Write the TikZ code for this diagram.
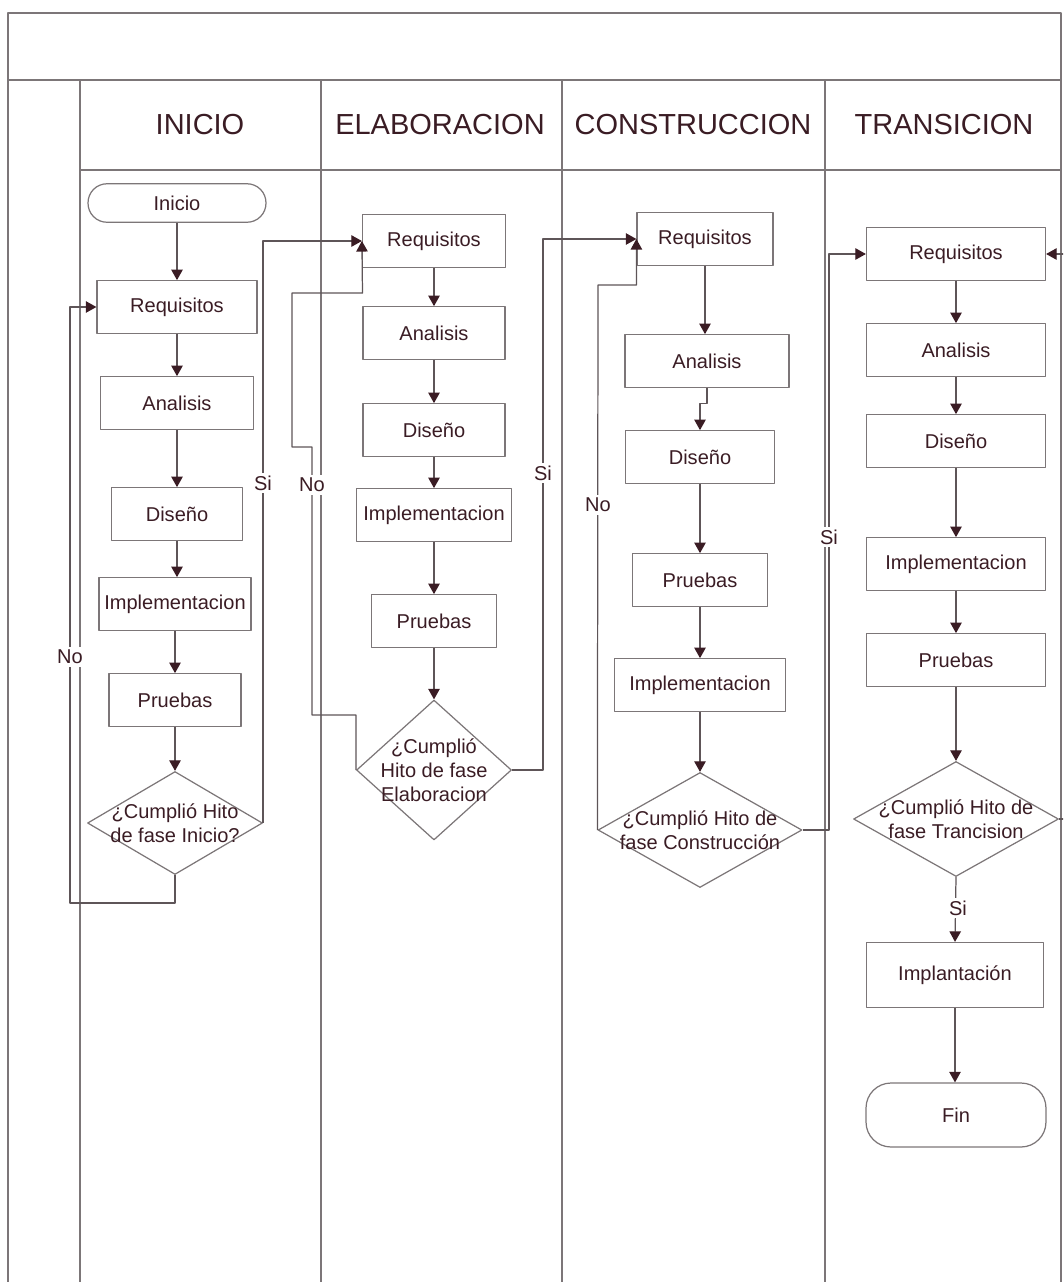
\documentclass[tikz,border=0pt]{standalone}
\usepackage{fontspec}
\setmainfont{Liberation Sans}
\usetikzlibrary{shapes.geometric,arrows.meta}
\definecolor{ink}{HTML}{3A1C24}
\definecolor{edge}{HTML}{7C7678}
\definecolor{wire}{HTML}{5E5558}

\begin{document}
\begin{tikzpicture}[
        x = 0.02cm, y = -0.02cm,
        line join=round,
        frame/.style = {draw=edge, line width=0.7pt},
        paso/.style = {draw=edge, line width=0.7pt, rectangle, minimum height=1.05cm, inner sep=0pt,
            text=ink, font=\fontsize{11.4}{13.7}\selectfont},
        terminal/.style = {paso, rounded corners=0.38cm},
        decision/.style = {draw=edge, line width=0.7pt, diamond, inner sep=0pt},
        rotulo/.style = {align=center, inner sep=0pt, text=ink, font=\fontsize{11.4}{13.7}\selectfont},
        flujo/.style = {draw=wire, line width=0.7pt, -{Triangle[length=6pt,width=6.5pt,color=ink]}},
        rama/.style = {fill=white, inner sep=1.5pt, text=ink, font=\fontsize{11.4}{13.7}\selectfont},
        fase/.style = {text=ink, font=\fontsize{16.5}{19}\selectfont}
    ]
        \clip (0,0) rectangle (1063,1282);

        % marco y carriles
        \draw[frame] (8,1290) -- (8,13) -- (1061,13) -- (1061,1290);
        \draw[frame, line width=1.5pt] (8,80) -- (1061,80);
        \draw[frame] (80,170) -- (1061,170);
        \foreach \x in {80,321,562,825}
            \draw[frame] (\x,80) -- (\x,1290);

        \node[fase] (fini) at (200,125) {INICIO};
        \node[fase] (felab) at (440,125) {ELABORACION};
        \node[fase] (fcons) at (693,125) {CONSTRUCCION};
        \node[fase] (ftran) at (944,125) {TRANSICION};

        % INICIO
        \node[terminal, minimum width=3.56cm, minimum height=0.77cm] (ini) at (177,203) {Inicio};
        \node[paso, minimum width=3.2cm] (req1) at (177,307) {Requisitos};
        \node[paso, minimum width=3.06cm] (ana1) at (177,403) {Analisis};
        \node[paso, minimum width=2.62cm] (dis1) at (177,514) {Diseño};
        \node[paso, minimum width=3.04cm] (imp1) at (175,604) {Implementacion};
        \node[paso, minimum width=2.64cm] (pru1) at (175,700) {Pruebas};
        \node[decision, minimum width=3.5cm, minimum height=2.06cm,
            label={[rotulo]center:{¿Cumplió Hito\\de fase Inicio?}}] (hito1) at (175,823) {};

        % ELABORACION
        \node[paso, minimum width=2.86cm] (req2) at (434,241) {Requisitos};
        \node[paso, minimum width=2.84cm] (ana2) at (434,333) {Analisis};
        \node[paso, minimum width=2.84cm] (dis2) at (434,430) {Diseño};
        \node[paso, minimum width=3.1cm] (imp2) at (434,515) {Implementacion};
        \node[paso, minimum width=2.5cm] (pru2) at (434,621) {Pruebas};
        \node[decision, minimum width=3.1cm, minimum height=2.8cm,
            label={[rotulo]center:{¿Cumplió\\Hito de fase\\Elaboracion}}] (hito2) at (434,770) {};

        % CONSTRUCCION
        \node[paso, minimum width=2.72cm] (req3) at (705,239) {Requisitos};
        \node[paso, minimum width=3.28cm] (ana3) at (707,361) {Analisis};
        \node[paso, minimum width=2.98cm] (dis3) at (700,457) {Diseño};
        \node[paso, minimum width=2.7cm] (pru3) at (700,580) {Pruebas};
        \node[paso, minimum width=3.42cm] (imp3) at (700,685) {Implementacion};
        \node[decision, minimum width=4.08cm, minimum height=2.3cm,
            label={[rotulo]center:{¿Cumplió Hito de\\fase Construcción}}] (hito3) at (700,830) {};

        % TRANSICION
        \node[paso, minimum width=3.58cm] (req4) at (956,254) {Requisitos};
        \node[paso, minimum width=3.58cm] (ana4) at (956,350) {Analisis};
        \node[paso, minimum width=3.58cm] (dis4) at (956,441) {Diseño};
        \node[paso, minimum width=3.58cm] (imp4) at (956,564) {Implementacion};
        \node[paso, minimum width=3.58cm] (pru4) at (956,660) {Pruebas};
        \node[decision, minimum width=4.1cm, minimum height=2.3cm,
            label={[rotulo]center:{¿Cumplió Hito de\\fase Trancision}}] (hito4) at (956,819) {};
        \node[paso, minimum width=3.54cm, minimum height=1.3cm] (impl) at (955,975) {Implantación};
        \node[terminal, minimum width=3.6cm, minimum height=1.28cm, rounded corners=0.5cm] (fin) at (956,1115) {Fin};

        % flujo principal
        \foreach \a/\b in {ini/req1, req1/ana1, ana1/dis1, dis1/imp1, imp1/pru1, pru1/hito1,
                req2/ana2, ana2/dis2, dis2/imp2, imp2/pru2, pru2/hito2,
                req3/ana3, dis3/pru3, pru3/imp3, imp3/hito3,
                req4/ana4, ana4/dis4, dis4/imp4, imp4/pru4, pru4/hito4, impl/fin}
            \draw[flujo] (\a) -- (\a |- \b.north);
        \draw[flujo] (ana3.south) -- ++(0,16) -| (dis3.north);
        \draw[flujo] (hito4.south) -- (impl.north);
        \node[rama] (tsi4) at (958,908) {Si};

        % retornos y avances entre fases
        \coordinate (no1) at (70,903);
        \draw[flujo] (hito1.south) |- (no1) |- (req1.west);
        \node[rama] (tno1) at (70,657) {No};
        \draw[flujo] (hito1.east) |- (req2.west);
        \node[rama] (tsi1) at (263,483) {Si};

        \coordinate (no2a) at (312,715);
        \coordinate (no2b) at (292,447);
        \coordinate (no2c) at (362.5,293);
        \draw[flujo] (hito2.west) |- (no2a) |- (no2b) |- (no2c) -- (req2.west);
        \node[rama] (tno2) at (312,485) {No};
        \coordinate (si2) at (543,770);
        \draw[flujo] (hito2.east) -- (si2) |- (req3.west);
        \node[rama] (tsi2) at (543,473) {Si};

        \coordinate (no3) at (598,285);
        \draw[flujo] (hito3.west) -- (no3) -| (req3.west);
        \node[rama] (tno3) at (598,505) {No};
        \coordinate (si3) at (829,830);
        \draw[flujo] (hito3.east) -- (si3) |- (req4.west);
        \node[rama] (tsi3) at (829,537) {Si};

        \coordinate (no4) at (1075,819);
        \draw[flujo] (hito4.east) -- (no4) |- (req4.east);

    \end{tikzpicture}
\end{document}
